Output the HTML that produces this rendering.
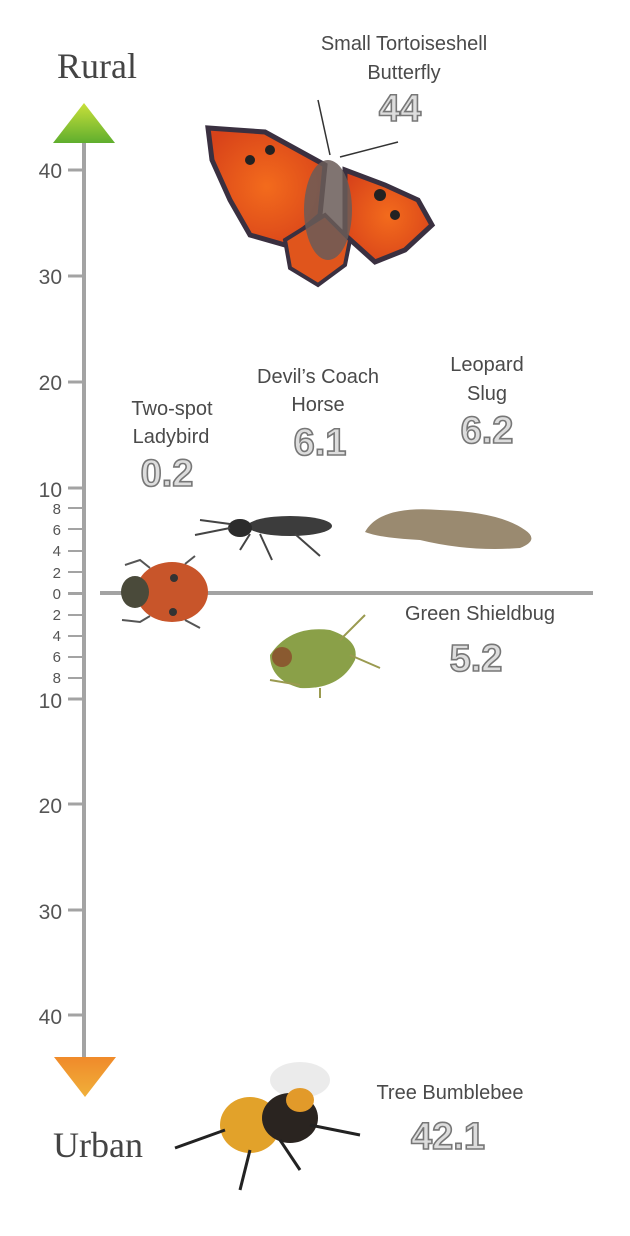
<!DOCTYPE html>
<html><head><meta charset="utf-8"><style>
body{margin:0;background:#fff;}
svg{display:block;font-family:"Liberation Sans",sans-serif;}
.lbl{font-size:20px;fill:#4a4a4a;text-anchor:middle;}
.num{font-size:38px;font-weight:bold;fill:#ddd;stroke:#777;stroke-width:1.6;text-anchor:middle;}
.tk{font-size:21px;fill:#555;text-anchor:end;}
.tks{font-size:15px;fill:#555;text-anchor:end;}
</style></head><body>
<svg width="630" height="1236" viewBox="0 0 630 1236">
<defs>
<linearGradient id="g" x1="0" y1="0" x2="0" y2="1"><stop offset="0" stop-color="#c9e03a"/><stop offset="1" stop-color="#5fae2e"/></linearGradient>
<linearGradient id="o" x1="0" y1="0" x2="0" y2="1"><stop offset="0" stop-color="#f08a2a"/><stop offset="1" stop-color="#f0b03a"/></linearGradient>
<radialGradient id="bf" cx="0.5" cy="0.5" r="0.6"><stop offset="0" stop-color="#f36b1c"/><stop offset="1" stop-color="#d8431a"/></radialGradient>
</defs>
<text x="97" y="78" font-family="Liberation Serif,serif" font-size="36" fill="#444" text-anchor="middle">Rural</text>
<text x="98" y="1157" font-family="Liberation Serif,serif" font-size="36" fill="#444" text-anchor="middle">Urban</text>
<polygon points="84,103 115,143 53,143" fill="url(#g)"/>
<polygon points="54,1057 116,1057 85,1097" fill="url(#o)"/>
<rect x="82" y="143" width="4" height="914" fill="#a3a3a3"/>
<rect x="100" y="591" width="493" height="4" fill="#a3a3a3"/>
<g fill="#a3a3a3">
<rect x="68" y="168.5" width="16" height="3"/><rect x="68" y="274.5" width="16" height="3"/><rect x="68" y="380.5" width="16" height="3"/><rect x="68" y="486.5" width="16" height="3"/>
<rect x="68" y="697.5" width="16" height="3"/><rect x="68" y="802.5" width="16" height="3"/><rect x="68" y="908.5" width="16" height="3"/><rect x="68" y="1013.5" width="16" height="3"/>
<rect x="68" y="507" width="14" height="2"/><rect x="68" y="528" width="14" height="2"/><rect x="68" y="550" width="14" height="2"/><rect x="68" y="571" width="14" height="2"/>
<rect x="68" y="592" width="14" height="3"/>
<rect x="68" y="614" width="14" height="2"/><rect x="68" y="635" width="14" height="2"/><rect x="68" y="656" width="14" height="2"/><rect x="68" y="677" width="14" height="2"/>
</g>
<text class="tk" x="62" y="178">40</text><text class="tk" x="62" y="284">30</text><text class="tk" x="62" y="390">20</text><text class="tk" x="62" y="497">10</text>
<text class="tk" x="62" y="708">10</text><text class="tk" x="62" y="813">20</text><text class="tk" x="62" y="919">30</text><text class="tk" x="62" y="1024">40</text>
<text class="tks" x="61" y="514">8</text><text class="tks" x="61" y="535">6</text><text class="tks" x="61" y="556">4</text><text class="tks" x="61" y="578">2</text><text class="tks" x="61" y="599">0</text>
<text class="tks" x="61" y="620">2</text><text class="tks" x="61" y="641">4</text><text class="tks" x="61" y="662">6</text><text class="tks" x="61" y="683">8</text>

<text class="lbl" x="404" y="50">Small Tortoiseshell</text><text class="lbl" x="404" y="79">Butterfly</text>
<text class="num" x="400" y="121">44</text>
<text class="lbl" x="172" y="415">Two-spot</text><text class="lbl" x="171" y="443">Ladybird</text>
<text class="num" x="167" y="486">0.2</text>
<text class="lbl" x="318" y="383">Devil’s Coach</text><text class="lbl" x="318" y="411">Horse</text>
<text class="num" x="320" y="455">6.1</text>
<text class="lbl" x="487" y="371">Leopard</text><text class="lbl" x="487" y="400">Slug</text>
<text class="num" x="487" y="443">6.2</text>
<text class="lbl" x="480" y="620">Green Shieldbug</text>
<text class="num" x="476" y="671">5.2</text>
<text class="lbl" x="450" y="1099">Tree Bumblebee</text>
<text class="num" x="448" y="1149">42.1</text>

<!-- butterfly -->
<g>
<line x1="330" y1="155" x2="318" y2="100" stroke="#333" stroke-width="1.5"/>
<line x1="340" y1="157" x2="398" y2="142" stroke="#333" stroke-width="1.5"/>
<path d="M325,165 L265,132 L208,128 L212,160 L230,200 L250,235 L285,245 L320,215 Z" fill="url(#bf)" stroke="#3a3040" stroke-width="5"/>
<path d="M345,170 L385,185 L418,200 L432,225 L405,250 L375,262 L345,235 Z" fill="url(#bf)" stroke="#3a3040" stroke-width="5"/>
<path d="M285,240 L325,215 L350,240 L345,265 L318,285 L290,268 Z" fill="#e0551c" stroke="#3a3040" stroke-width="4"/>
<ellipse cx="328" cy="210" rx="24" ry="50" fill="#6a5c58" opacity="0.85"/>
<circle cx="250" cy="160" r="5" fill="#222"/><circle cx="270" cy="150" r="5" fill="#222"/><circle cx="380" cy="195" r="6" fill="#222"/><circle cx="395" cy="215" r="5" fill="#222"/>
</g>
<!-- ladybird -->
<g>
<ellipse cx="172" cy="592" rx="36" ry="30" fill="#c8552a"/>
<ellipse cx="135" cy="592" rx="14" ry="16" fill="#4a4a3a"/>
<circle cx="174" cy="578" r="4" fill="#333"/><circle cx="173" cy="612" r="4" fill="#333"/>
<g stroke="#555" stroke-width="2" fill="none"><path d="M150,568 L140,560 L125,565"/><path d="M150,616 L140,622 L122,620"/><path d="M185,564 L195,556"/><path d="M185,620 L200,628"/></g>
</g>
<!-- rove beetle -->
<g>
<ellipse cx="290" cy="526" rx="42" ry="10" fill="#3c3c3c"/>
<ellipse cx="240" cy="528" rx="12" ry="9" fill="#2c2c2c"/>
<g stroke="#444" stroke-width="2" fill="none"><path d="M230,528 L195,535"/><path d="M230,524 L200,520"/><path d="M260,534 L272,560"/><path d="M250,534 L240,550"/><path d="M295,534 L320,556"/></g>
</g>
<!-- slug -->
<path d="M365,532 Q380,505 440,510 Q500,512 525,530 Q540,540 520,548 Q470,552 420,540 Q380,538 365,532 Z" fill="#9a8a70"/>
<!-- shieldbug -->
<g>
<path d="M270,655 Q290,625 330,630 Q360,640 355,660 Q340,690 300,688 Q270,680 270,655 Z" fill="#8aa048"/>
<circle cx="282" cy="657" r="10" fill="#8a5a30"/>
<g stroke="#9a9a50" stroke-width="2" fill="none"><path d="M350,655 L380,668"/><path d="M340,640 L365,615"/><path d="M300,685 L270,680"/><path d="M320,688 L320,698"/></g>
</g>
<!-- bumblebee -->
<g>
<ellipse cx="300" cy="1080" rx="30" ry="18" fill="#ddd" opacity="0.6"/>
<ellipse cx="250" cy="1125" rx="30" ry="28" fill="#e2a22a"/>
<ellipse cx="290" cy="1118" rx="28" ry="25" fill="#2a2420"/>
<ellipse cx="300" cy="1100" rx="14" ry="12" fill="#e29a2a"/>
<g stroke="#222" stroke-width="3" fill="none"><path d="M225,1130 L175,1148"/><path d="M250,1150 L240,1190"/><path d="M280,1140 L300,1170"/><path d="M310,1125 L360,1135"/></g>
</g>
</svg>
</body></html>
